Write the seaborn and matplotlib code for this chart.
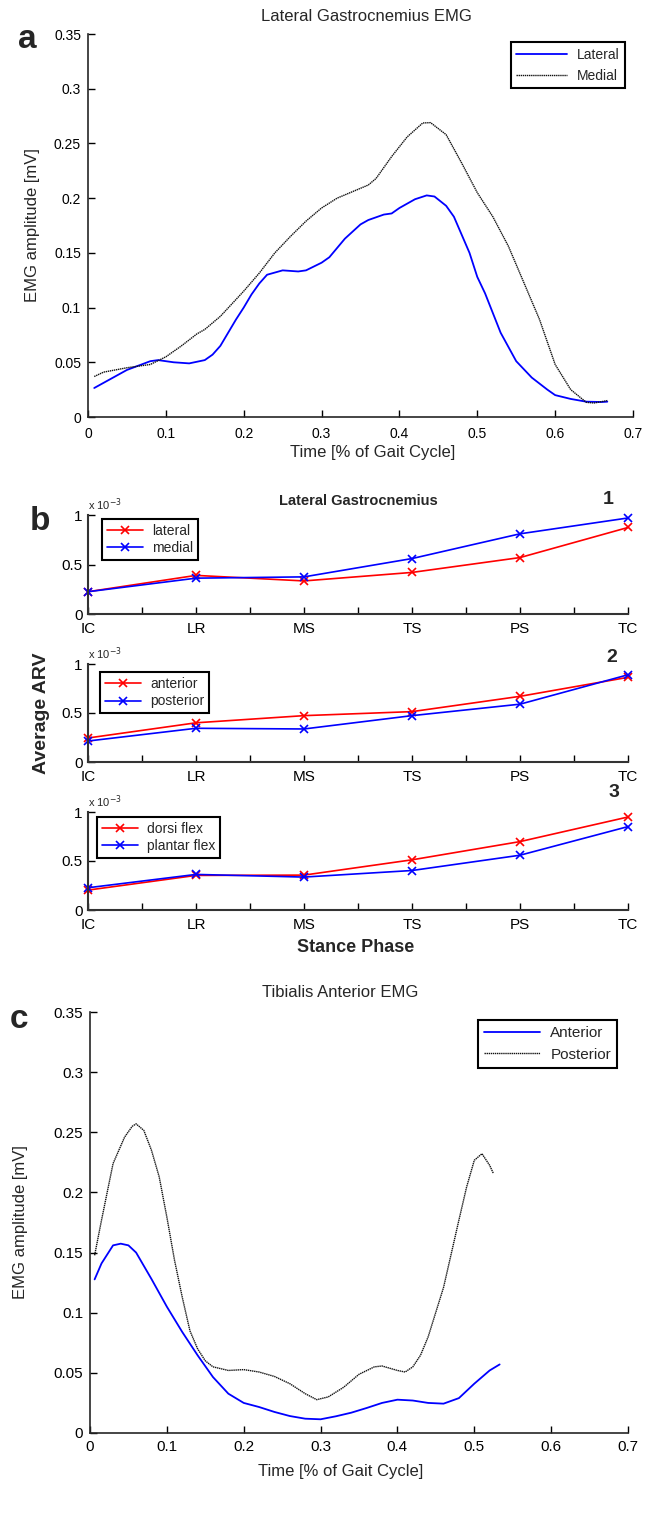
import matplotlib
matplotlib.use("Agg")
import matplotlib.pyplot as plt
import seaborn as sns
from matplotlib.ticker import FuncFormatter

# --- panel a : Lateral Gastrocnemius EMG (courbes)
lat_t = [0.008, 0.05, 0.08, 0.09, 0.11, 0.13, 0.15, 0.16, 0.17, 0.19, 0.20, 0.21, 0.22,
         0.23, 0.25, 0.27, 0.28, 0.30, 0.31, 0.33, 0.35, 0.36, 0.38, 0.39, 0.40, 0.42,
         0.435, 0.445, 0.46, 0.47, 0.49, 0.50, 0.51, 0.53, 0.55, 0.57, 0.59, 0.60, 0.62,
         0.64, 0.66, 0.667]
lat_emg = [0.0265, 0.043, 0.051, 0.052, 0.050, 0.049, 0.052, 0.057, 0.065, 0.089, 0.100,
           0.112, 0.122, 0.130, 0.134, 0.133, 0.134, 0.141, 0.146, 0.163, 0.176, 0.180,
           0.185, 0.186, 0.191, 0.199, 0.2025, 0.2015, 0.193, 0.183, 0.150, 0.128, 0.113,
           0.077, 0.051, 0.036, 0.025, 0.020, 0.0165, 0.014, 0.0137, 0.014]
med_t = [0.008, 0.02, 0.05, 0.08, 0.10, 0.12, 0.14, 0.15, 0.17, 0.20, 0.22, 0.24, 0.26,
         0.28, 0.30, 0.32, 0.34, 0.36, 0.37, 0.39, 0.41, 0.43, 0.44, 0.46, 0.48, 0.50,
         0.52, 0.54, 0.56, 0.58, 0.60, 0.62, 0.64, 0.65, 0.667]
med_emg = [0.037, 0.041, 0.045, 0.048, 0.055, 0.065, 0.076, 0.080, 0.092, 0.115, 0.1315,
           0.150, 0.165, 0.179, 0.191, 0.200, 0.206, 0.212, 0.218, 0.238, 0.256, 0.2687,
           0.269, 0.258, 0.232, 0.205, 0.183, 0.156, 0.1225, 0.089, 0.048, 0.025, 0.0134,
           0.0128, 0.015]

# --- panel b : Average ARV (x 10^-3) par phase d'appui
phases = ["IC", "LR", "MS", "TS", "PS", "TC"]
arv_lateral = [0.225, 0.39, 0.334, 0.42, 0.57, 0.874]
arv_medial = [0.225, 0.362, 0.375, 0.56, 0.81, 0.97]
arv_anterior = [0.245, 0.40, 0.473, 0.514, 0.67, 0.864]
arv_posterior = [0.214, 0.344, 0.337, 0.473, 0.59, 0.89]
arv_dorsi = [0.203, 0.353, 0.356, 0.512, 0.698, 0.949]
arv_plantar = [0.227, 0.363, 0.336, 0.403, 0.559, 0.851]

# --- panel c : Tibialis Anterior EMG
ant_t = [0.006, 0.015, 0.03, 0.04, 0.05, 0.06, 0.08, 0.10, 0.12, 0.14, 0.16, 0.18, 0.20,
         0.22, 0.24, 0.26, 0.28, 0.30, 0.32, 0.34, 0.36, 0.38, 0.40, 0.42, 0.44, 0.46,
         0.48, 0.50, 0.52, 0.533]
ant_emg = [0.1277, 0.141, 0.156, 0.1574, 0.156, 0.150, 0.128, 0.105, 0.084, 0.0646,
           0.0465, 0.0327, 0.025, 0.0216, 0.0175, 0.0141, 0.0119, 0.0114, 0.0139, 0.0169,
           0.0208, 0.025, 0.0277, 0.027, 0.025, 0.0244, 0.029, 0.041, 0.052, 0.057]
post_t = [0.006, 0.015, 0.03, 0.045, 0.055, 0.06, 0.07, 0.08, 0.09, 0.10, 0.11, 0.12,
          0.13, 0.14, 0.15, 0.16, 0.18, 0.20, 0.22, 0.24, 0.26, 0.28, 0.295, 0.31, 0.33,
          0.35, 0.37, 0.38, 0.40, 0.41, 0.42, 0.43, 0.44, 0.46, 0.48, 0.49, 0.50, 0.51,
          0.52, 0.525]
post_emg = [0.1477, 0.177, 0.224, 0.246, 0.255, 0.257, 0.2516, 0.235, 0.213, 0.1795,
            0.1435, 0.113, 0.085, 0.070, 0.060, 0.055, 0.052, 0.0527, 0.0507, 0.047,
            0.041, 0.0327, 0.0277, 0.030, 0.038, 0.0488, 0.055, 0.0557, 0.052, 0.0507,
            0.055, 0.0646, 0.080, 0.121, 0.177, 0.2045, 0.2267, 0.2322, 0.2225, 0.2156]

sns.set_style("ticks")
plt.rcParams["font.family"] = ["Liberation Sans", "DejaVu Sans"]
plt.rcParams["xtick.direction"] = "in"
plt.rcParams["ytick.direction"] = "in"
plt.rcParams["axes.linewidth"] = 1.2

W, H = 656, 1523
fig = plt.figure(figsize=(W / 100, H / 100), dpi=100)


def pos(x0, x1, ytop, ybot):
    # coordonnees pixels -> fractions de figure
    return [x0 / W, 1 - ybot / H, (x1 - x0) / W, (ybot - ytop) / H]


fmt = FuncFormatter(lambda v, p: "%g" % round(v, 3))
dotted = (0, (1.0, 0.5))


def emg_axes(ax, t1, y1, t2, y2, lab1, lab2, tsize, lsize, xpad):
    sns.lineplot(x=t1, y=y1, ax=ax, color="#0000ff", lw=1.3, sort=False,
                 estimator=None, label=lab1)
    sns.lineplot(x=t2, y=y2, ax=ax, color="#111111", lw=1.0, sort=False,
                 estimator=None, label=lab2, linestyle=dotted)
    ax.set_xlim(0, 0.7)
    ax.set_ylim(0, 0.35)
    ax.set_xticks([i / 10 for i in range(8)])
    ax.set_yticks([i * 0.05 for i in range(8)])
    ax.xaxis.set_major_formatter(fmt)
    ax.yaxis.set_major_formatter(fmt)
    ax.tick_params(length=5, width=1, colors="black", labelsize=tsize)
    ax.tick_params(axis="x", pad=xpad)
    ax.tick_params(axis="y", pad=5)
    sns.despine(ax=ax)
    ax.set_xlabel("Time [% of Gait Cycle]", fontsize=12)
    ax.set_ylabel("EMG amplitude [mV]", fontsize=12)
    leg = ax.legend(loc="upper right", fontsize=lsize, handlelength=3.7,
                    handletextpad=0.65, fancybox=False, framealpha=1, borderpad=0.4,
                    labelspacing=0.5, borderaxespad=0)
    leg.get_frame().set_edgecolor("black")
    leg.get_frame().set_linewidth(1.5)
    return leg


# ---------------- a
ax_a = fig.add_axes(pos(88, 633, 34, 417))
leg = emg_axes(ax_a, lat_t, lat_emg, med_t, med_emg, "Lateral", "Medial", 10, 10, 7)
leg.set_bbox_to_anchor((0.985, 0.979))
ax_a.xaxis.set_label_coords(0.523, -0.072)
ax_a.yaxis.set_label_coords(-0.088, 0.5)
ax_a.text(0.51, 1.045, "Lateral Gastrocnemius EMG", transform=ax_a.transAxes,
          ha="center", va="center", fontsize=12)
fig.text(27 / W, 1 - 40 / H, "a", fontsize=24, fontweight="bold", ha="center", va="center")

# ---------------- b
b_rows = [
    (515, 614, arv_lateral, arv_medial, "lateral", "medial", (0.026, 0.96), "1", 608, 499),
    (664, 762, arv_anterior, arv_posterior, "anterior", "posterior", (0.022, 0.918), "2", 612, 658),
    (812, 910, arv_dorsi, arv_plantar, "dorsi flex", "plantar flex", (0.017, 0.949), "3", 614, 793),
]
xpos = [1, 2, 3, 4, 5, 6]
for ytop, ybot, red, blue, lr, lb, anchor, num, nx, ny in b_rows:
    ax = fig.add_axes(pos(88, 628, ytop, ybot))
    sns.lineplot(x=xpos, y=red, ax=ax, color="#ff0000", lw=1.2, marker="x", ms=6,
                 mec="#ff0000", mew=1.2, estimator=None, label=lr, clip_on=False)
    sns.lineplot(x=xpos, y=blue, ax=ax, color="#0000ff", lw=1.2, marker="x", ms=6,
                 mec="#0000ff", mew=1.2, estimator=None, label=lb, clip_on=False)
    ax.set_xlim(1, 6)
    ax.set_ylim(0, 1)
    ax.set_xticks(xpos)
    ax.set_xticklabels(phases)
    ax.set_xticks([1.5, 2.5, 3.5, 4.5, 5.5], minor=True)
    ax.set_yticks([0, 0.5, 1])
    ax.yaxis.set_major_formatter(fmt)
    ax.tick_params(which="both", length=5, width=1, colors="black", labelsize=11)
    ax.tick_params(axis="x", pad=6)
    ax.tick_params(axis="y", pad=4)
    for s in ["left", "bottom"]:
        ax.spines[s].set_color("#333333")
        ax.spines[s].set_linewidth(1.5)
    sns.despine(ax=ax)
    ax.set_xlabel("")
    ax.set_ylabel("")
    ax.text(0.0, 1.02, "x 10$^{-3}$", transform=ax.transAxes, fontsize=8,
            ha="left", va="bottom")
    leg = ax.legend(loc="upper left", bbox_to_anchor=anchor, fontsize=10,
                    handlelength=2.6, handletextpad=0.65, fancybox=False,
                    framealpha=1, borderpad=0.35, labelspacing=0.25, borderaxespad=0)
    leg.get_frame().set_edgecolor("black")
    leg.get_frame().set_linewidth(1.5)
    fig.text(nx / W, 1 - ny / H, num, fontsize=14, fontweight="bold",
             ha="center", va="center")

fig.text(358 / W, 1 - 501 / H, "Lateral Gastrocnemius", fontsize=10.5,
         fontweight="bold", ha="center", va="center")
fig.text(42 / W, 1 - 713 / H, "Average ARV", fontsize=14, fontweight="bold",
         rotation=90, ha="center", va="center")
fig.text(356 / W, 1 - 948 / H, "Stance Phase", fontsize=13, fontweight="bold",
         ha="center", va="center")
fig.text(40 / W, 1 - 522 / H, "b", fontsize=24, fontweight="bold", ha="center", va="center")

# ---------------- c
ax_c = fig.add_axes(pos(90, 628, 1012, 1433))
leg = emg_axes(ax_c, ant_t, ant_emg, post_t, post_emg, "Anterior", "Posterior", 11, 11, 5)
leg.set_bbox_to_anchor((0.98, 0.981))
ax_c.xaxis.set_label_coords(0.465, -0.074)
ax_c.yaxis.set_label_coords(-0.115, 0.5)
ax_c.text(0.465, 1.047, "Tibialis Anterior EMG", transform=ax_c.transAxes,
          ha="center", va="center", fontsize=12)
fig.text(19 / W, 1 - 1020 / H, "c", fontsize=24, fontweight="bold", ha="center", va="center")

fig.savefig("out.png", dpi=100)
